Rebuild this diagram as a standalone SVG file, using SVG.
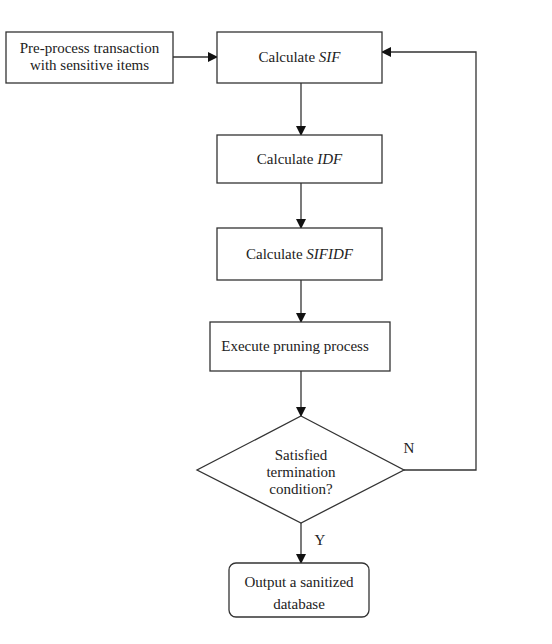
<svg xmlns="http://www.w3.org/2000/svg" width="552" height="644" viewBox="0 0 552 644">
<defs>
<style>
.box{fill:#fff;stroke:#333;stroke-width:1.3}
.t{font-family:"Liberation Serif","Times New Roman",serif;font-size:15px;fill:#222;text-anchor:middle}
.i{font-style:italic}
.ln{fill:none;stroke:#333;stroke-width:1.3}
</style>
<marker id="ah" markerWidth="10" markerHeight="10" refX="9" refY="5" orient="auto" markerUnits="userSpaceOnUse">
<path d="M0,0 L10,5 L0,10 Z" fill="#111"/>
</marker>
</defs>
<rect width="552" height="644" fill="#fff"/>
<g id="connectors">
<line class="ln" x1="173" y1="57" x2="217" y2="57" marker-end="url(#ah)"/>
<line class="ln" x1="301" y1="83" x2="301" y2="135" marker-end="url(#ah)"/>
<line class="ln" x1="301" y1="183" x2="301" y2="228" marker-end="url(#ah)"/>
<line class="ln" x1="301" y1="280" x2="301" y2="322" marker-end="url(#ah)"/>
<line class="ln" x1="301" y1="371" x2="301" y2="416" marker-end="url(#ah)"/>
<line class="ln" x1="301" y1="523" x2="301" y2="563" marker-end="url(#ah)"/>
<polyline class="ln" points="404,470 476,470 476,52 382,52" marker-end="url(#ah)"/>
<text class="t" x="409" y="453">N</text>
<text class="t" x="320" y="545">Y</text>
</g>
<g id="preprocess">
<rect class="box" x="6" y="32" width="167" height="51"/>
<text class="t" x="89.5" y="53">Pre-process transaction</text>
<text class="t" x="89.5" y="70">with sensitive items</text>
</g>
<g id="calc-sif">
<rect class="box" x="217" y="32" width="165" height="51"/>
<text class="t" x="299.5" y="62">Calculate <tspan class="i">SIF</tspan></text>
</g>
<g id="calc-idf">
<rect class="box" x="217" y="135" width="165" height="48"/>
<text class="t" x="299.5" y="164">Calculate <tspan class="i">IDF</tspan></text>
</g>
<g id="calc-sifidf">
<rect class="box" x="217" y="228" width="165" height="52"/>
<text class="t" x="299.5" y="259">Calculate <tspan class="i">SIFIDF</tspan></text>
</g>
<g id="prune">
<rect class="box" x="210" y="322" width="180" height="49"/>
<text class="t" x="295" y="351">Execute pruning process</text>
</g>
<g id="decision">
<polygon class="box" points="301,416 404,470 301,523 197,470"/>
<text class="t" x="301" y="460">Satisfied</text>
<text class="t" x="301" y="477">termination</text>
<text class="t" x="301" y="494">condition?</text>
</g>
<g id="output">
<rect class="box" x="229" y="563" width="140" height="54" rx="7"/>
<text class="t" x="299" y="587">Output a sanitized</text>
<text class="t" x="299" y="609">database</text>
</g>
</svg>
